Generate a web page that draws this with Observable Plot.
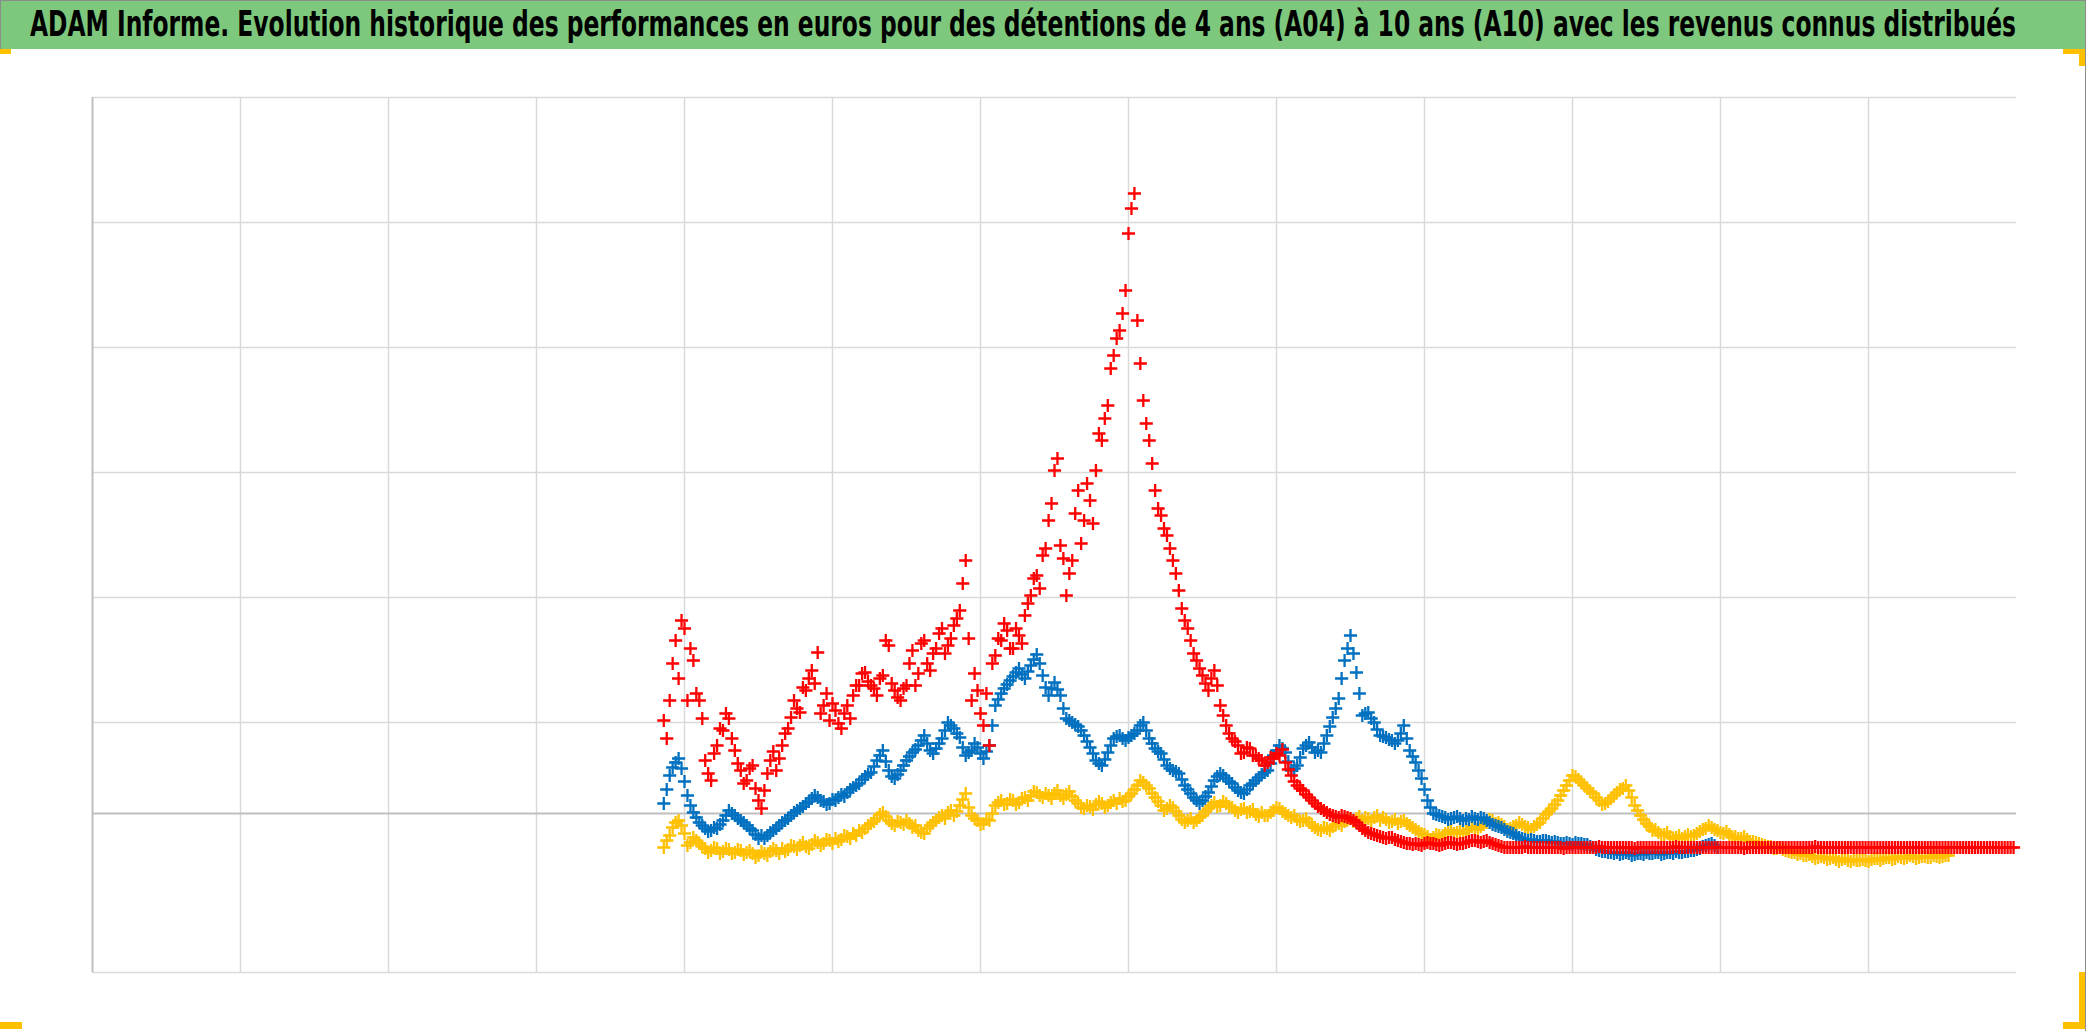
<!DOCTYPE html>
<html><head><meta charset="utf-8">
<script src="https://cdn.jsdelivr.net/npm/d3@7"></script>
<script src="https://cdn.jsdelivr.net/npm/@observablehq/plot@0.6"></script>
<style>
html,body{margin:0;padding:0;background:#fff;}
#wrap{position:relative;width:2086px;height:1031px;overflow:hidden;background:#fff;}
#title{position:absolute;left:0;top:0;width:2086px;height:49px;background:#7DC87D;border-left:1px solid #8c8c8c;box-sizing:border-box;}
#tt{position:absolute;left:29px;top:7px;font-family:"Liberation Sans Narrow","DejaVu Sans Condensed",sans-serif;font-weight:bold;font-size:35px;line-height:35px;white-space:nowrap;transform-origin:0 0;color:#000;}
#chart{position:absolute;left:0;top:50px;}
.frame{position:absolute;left:0;top:0;width:2085px;height:1030px;border-top:1px solid #8c8c8c;border-right:1px solid #8c8c8c;border-bottom:1px solid #8c8c8c;pointer-events:none;}
.h{position:absolute;background:#FFC000;}
</style></head><body>
<div id="wrap">
  <div id="title"><span id="tt">ADAM Informe. Evolution historique des performances en euros pour des détentions de 4 ans (A04) à 10 ans (A10) avec les revenus connus distribués</span></div>
  <div id="chart"></div>
  <div class="frame"></div>
  <div class="h" style="left:0;top:49px;width:11px;height:5px"></div>
  <div class="h" style="left:2063px;top:49px;width:22px;height:5px"></div>
  <div class="h" style="left:2079px;top:49px;width:6px;height:17px"></div>
  <div class="h" style="left:0;top:1022px;width:22px;height:7px"></div>
  <div class="h" style="left:2063px;top:1022px;width:22px;height:7px"></div>
  <div class="h" style="left:2079px;top:972px;width:6px;height:57px"></div>
</div>
<script>
// time axis (grid units) and sampling
const tStart = 3.86;
const tStep = 0.02;
const xDomain = [0, 13];
const yDomain = [-159, 716];
const gridX = [1,2,3,4,5,6,7,8,9,10,11,12];
const gridY = [-159, 91, 216, 341, 466, 591, 716];

// yellow series
const yellowValues = [
-34,-27,-22,-14,-9,-7,-12,-20,-32,-29,-24,-27,-30,-33,-35,-39,-37,-34,-35,-40,
-38,-35,-36,-40,-39,-36,-37,-41,-39,-37,-40,-44,-42,-38,-40,-42,-38,-35,-37,-40,
-35,-38,-36,-32,-33,-36,-32,-29,-33,-35,-31,-27,-29,-32,-30,-26,-27,-30,-25,-28,
-26,-22,-23,-25,-20,-22,-17,-19,-15,-12,-10,-8,-5,-1,1,-3,-7,-10,-12,-8,
-9,-11,-7,-10,-14,-12,-17,-19,-20,-15,-12,-9,-7,-4,-2,-5,1,3,-2,2,
8,14,20,6,-2,-5,-7,-11,-10,-6,-7,0,8,11,13,9,10,14,13,9,
11,15,16,13,18,22,21,18,16,20,18,15,20,23,18,15,19,22,17,13,
10,6,5,8,7,4,9,12,10,6,8,11,13,10,15,12,13,17,20,24,
28,33,31,28,25,20,16,12,8,3,5,8,6,2,-2,-6,-9,-7,-5,-9,
-7,-4,-2,2,5,8,11,7,8,12,10,7,6,3,1,4,5,1,2,4,
-1,-3,1,-2,-2,1,3,6,5,2,0,-2,-4,-2,-6,-8,-7,-5,-9,-12,
-14,-16,-17,-14,-15,-17,-13,-11,-10,-12,-8,-6,-5,-8,-5,-3,-7,-4,-5,-8,
-4,-2,-7,-4,-6,-9,-8,-6,-10,-8,-7,-10,-12,-14,-16,-18,-20,-21,-23,-26,
-24,-21,-22,-24,-20,-17,-17,-20,-19,-17,-20,-18,-16,-13,-14,-16,-13,-11,-9,-6,
-7,-10,-9,-11,-13,-16,-15,-13,-12,-9,-11,-13,-14,-16,-13,-11,-9,-5,-1,2,
5,9,13,18,23,28,33,38,37,34,31,28,25,22,20,16,13,9,10,12,
15,18,21,24,25,28,23,16,8,3,-2,-6,-10,-13,-17,-16,-19,-22,-21,-19,
-23,-25,-24,-22,-25,-23,-21,-23,-22,-20,-18,-16,-15,-12,-14,-16,-17,-19,-20,-18,
-21,-24,-23,-25,-25,-23,-26,-28,-28,-29,-30,-31,-32,-33,-33,-35,-35,-34,-36,-37,
-38,-39,-39,-41,-40,-42,-42,-41,-43,-45,-44,-43,-44,-46,-45,-44,-46,-48,-46,-45,
-47,-48,-46,-47,-47,-46,-47,-48,-46,-45,-45,-47,-45,-44,-44,-46,-45,-43,-44,-45,
-44,-42,-43,-45,-44,-43,-43,-44,-44,-42,-43,-44,-43,-42,-42];

// blue series
const blueValues = [
10,24,38,46,51,55,45,32,18,8,1,-4,-9,-12,-15,-18,-17,-14,-15,-11,
-7,-2,3,0,-2,-5,-7,-9,-12,-15,-17,-21,-25,-22,-25,-22,-19,-17,-15,-12,
-9,-7,-5,-2,1,3,5,7,10,12,15,18,16,13,12,9,10,14,13,16,
19,17,21,24,26,28,30,34,37,39,41,47,53,58,63,52,43,37,35,39,
43,48,53,57,61,64,68,73,78,70,63,60,65,70,75,83,91,88,85,80,
76,66,58,61,63,70,66,60,55,62,68,88,108,114,120,125,129,133,137,141,
145,139,135,142,148,154,159,150,138,126,118,125,131,124,118,105,95,93,91,89,
87,83,78,72,66,60,53,50,48,54,61,68,75,77,78,75,73,76,78,80,
83,88,91,83,75,70,65,62,60,54,48,45,43,42,40,34,28,24,20,16,
13,10,13,17,21,27,33,37,40,38,35,32,30,26,23,21,20,24,28,30,
33,36,39,41,43,50,58,63,68,65,61,52,43,45,48,56,65,68,71,66,
61,63,61,70,78,87,96,105,115,135,153,165,178,160,141,120,98,100,101,95,
91,84,78,77,76,74,73,70,73,80,88,75,63,57,51,43,35,24,13,6,
0,-1,-2,-3,-4,-6,-5,-4,-3,-5,-7,-5,-6,-3,-5,-6,-4,-5,-7,-9,
-11,-12,-13,-14,-16,-18,-19,-20,-22,-24,-25,-26,-27,-26,-27,-28,-28,-27,-27,-28,
-29,-28,-29,-30,-30,-29,-30,-31,-29,-30,-30,-31,-31,-33,-34,-36,-37,-38,-38,-39,
-39,-40,-39,-41,-40,-39,-40,-42,-41,-40,-40,-41,-39,-40,-40,-39,-39,-41,-40,-39,
-39,-40,-38,-39,-39,-38,-38,-37,-37,-36,-35,-33,-32,-31,-30,-32,-34];

// red series
const redValues = [
93,75,113,150,173,135,193,185,113,165,153,120,113,95,53,40,33,60,68,85,
83,100,95,75,63,50,43,30,33,45,48,25,13,5,23,40,53,62,43,55,
68,80,85,96,113,105,101,126,123,135,143,130,161,100,108,120,93,110,103,90,
85,100,108,95,118,128,128,140,141,132,128,125,118,135,138,173,168,130,123,116,
113,125,128,150,163,128,140,170,173,150,143,160,165,180,185,160,168,175,188,195,
203,230,253,175,113,140,123,100,88,120,68,150,158,175,173,190,183,165,165,185,
178,170,198,210,218,235,238,225,258,265,293,310,343,355,268,255,218,240,253,300,
323,270,293,330,313,290,343,380,373,395,408,445,458,475,483,500,523,580,605,620,
493,450,413,390,373,350,323,305,298,285,278,265,253,240,223,205,193,185,173,160,
153,145,138,130,123,135,143,128,108,98,88,80,75,72,68,60,61,66,65,58,
58,55,53,48,51,56,55,60,58,64,51,44,38,32,28,25,23,19,16,13,
10,7,5,3,1,-1,-2,-3,-4,-2,-3,-4,-5,-7,-9,-12,-15,-17,-19,-20,
-21,-22,-23,-24,-25,-24,-24,-26,-27,-28,-29,-30,-30,-31,-30,-31,-32,-30,-29,-30,
-30,-31,-32,-31,-30,-29,-29,-30,-31,-30,-30,-29,-28,-27,-27,-28,-29,-28,-27,-29,
-30,-31,-32,-33,-34,-34,-34,-34,-34,-34,-34,-33,-34,-34,-34,-34,-34,-34,-34,-34,
-34,-34,-34,-34,-35,-34,-34,-34,-34,-34,-34,-34,-34,-34,-34,-34,-33,-34,-34,-34,
-34,-34,-34,-34,-34,-34,-34,-34,-35,-34,-34,-34,-34,-34,-34,-34,-34,-34,-34,-34,
-34,-34,-33,-34,-34,-34,-34,-34,-34,-34,-34,-34,-34,-34,-34,-34,-34,-34,-34,-34,
-34,-34,-34,-34,-34,-35,-34,-34,-34,-34,-34,-34,-34,-34,-34,-34,-34,-34,-34,-34,
-34,-34,-34,-34,-34,-34,-34,-34,-34,-33,-34,-34,-34,-34,-34,-34,-34,-34,-34,-34,
-34,-34,-34,-34,-34,-34,-34,-34,-34,-34,-34,-34,-34,-34,-34,-34,-34,-34,-34,-34,
-34,-34,-34,-34,-34,-34,-34,-34,-34,-34,-34,-34,-34,-34,-34,-34,-34,-34,-34,-34,
-34,-34,-34,-34,-34,-34,-34,-34,-34,-34,-34,-34,-34,-34,-34,-34,-34];

const seriesColors = {jaune: "#FFC000", bleu: "#0070C0", rouge: "#FF0000"};

function rows(values) {
  return values.map((v, i) => ({t: tStart + i * tStep, v}));
}

const dotStyle = {x: "t", y: "v", symbol: "plus", r: 4.3, strokeWidth: 2.3};

const chart = Plot.plot({
  width: 2086,
  height: 981,
  marginLeft: 92,
  marginRight: 70,
  marginTop: 47,
  marginBottom: 59,
  x: {domain: xDomain, axis: null},
  y: {domain: yDomain, axis: null},
  style: {background: "transparent"},
  marks: [
    Plot.ruleY(gridY, {stroke: "#D9D9D9", strokeWidth: 1.5}),
    Plot.ruleX(gridX, {stroke: "#D9D9D9", strokeWidth: 1.5}),
    Plot.ruleY([0], {stroke: "#BFBFBF", strokeWidth: 2}),
    Plot.ruleX([0], {stroke: "#BFBFBF", strokeWidth: 2}),
    Plot.dot(rows(yellowValues), {...dotStyle, stroke: seriesColors.jaune}),
    Plot.dot(rows(blueValues), {...dotStyle, stroke: seriesColors.bleu}),
    Plot.dot(rows(redValues), {...dotStyle, stroke: seriesColors.rouge})
  ]
});
document.getElementById("chart").appendChild(chart);

const tt = document.getElementById("tt");
const w = tt.getBoundingClientRect().width;
tt.style.transform = `scaleX(${1986 / w})`;
</script>
</body></html>
